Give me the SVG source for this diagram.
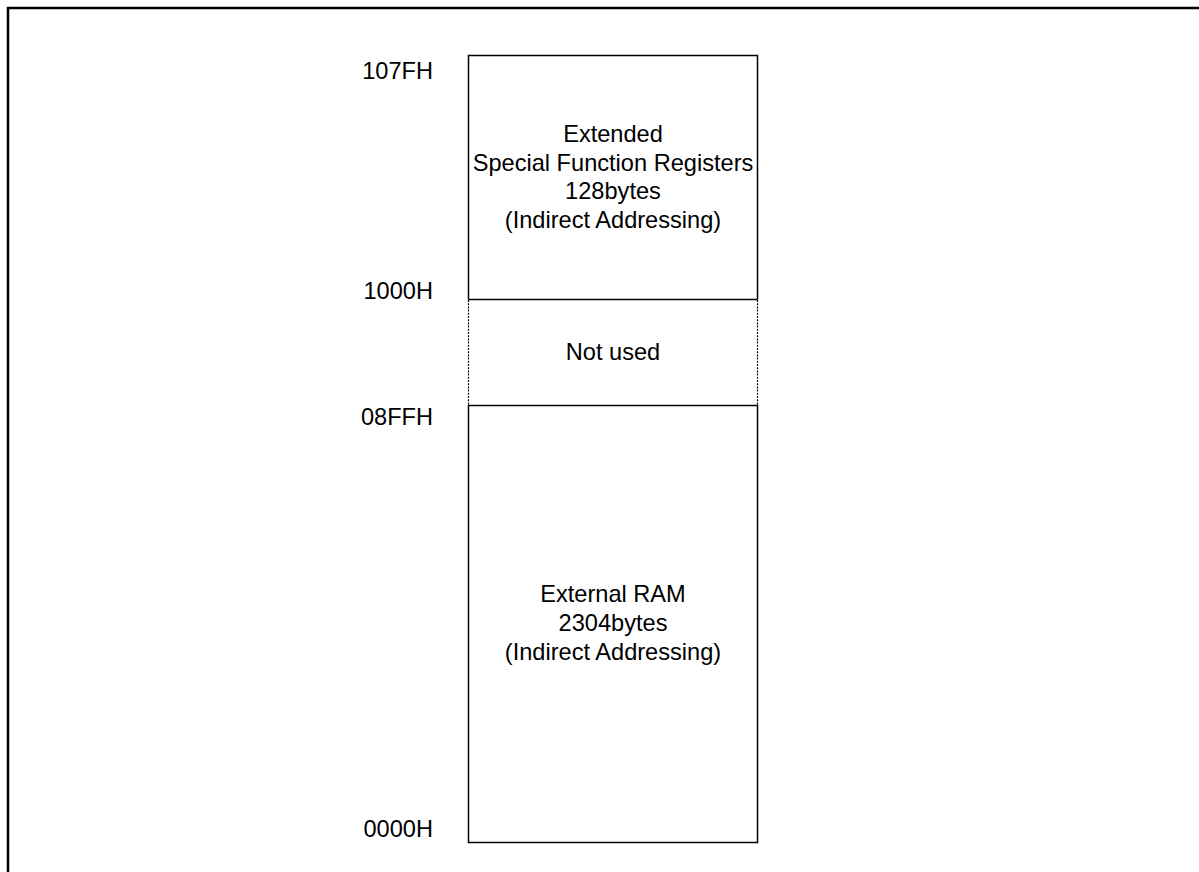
<svg xmlns="http://www.w3.org/2000/svg" width="1199" height="872" viewBox="0 0 1199 872">
<style>
text{font-family:"Liberation Sans",Arial,sans-serif;font-size:23.6px;fill:#000}
.c{text-anchor:middle}
.r{text-anchor:end}
.solid{fill:none;stroke:#000;stroke-width:1.5}
.dot{fill:none;stroke:#000;stroke-width:1.2;stroke-dasharray:2 1.2}
</style>
<rect width="1199" height="872" fill="#fff"/>
<g id="frame"><path d="M8 872V8H1199" fill="none" stroke="#000" stroke-width="2.5"/></g>
<g id="esfr">
<path class="solid" d="M468.5 299.5V55.5H757.5V299.5M468.5 299.5H757.5"/>
<text class="c" x="613" y="142">Extended</text>
<text class="c" x="613" y="170.5">Special Function Registers</text>
<text class="c" x="613" y="199">128bytes</text>
<text class="c" x="613" y="227.5">(Indirect Addressing)</text>
</g>
<g id="notused">
<path class="dot" d="M468.5 300V405M757.5 300V405"/>
<text class="c" x="613" y="360">Not used</text>
</g>
<g id="xram">
<path class="solid" d="M468.5 405.5H757.5V842.5H468.5Z"/>
<text class="c" x="613" y="602">External RAM</text>
<text class="c" x="613" y="631">2304bytes</text>
<text class="c" x="613" y="660">(Indirect Addressing)</text>
</g>
<g id="labels">
<text class="r" x="433" y="79">107FH</text>
<text class="r" x="433" y="299">1000H</text>
<text class="r" x="433" y="425">08FFH</text>
<text class="r" x="433" y="837">0000H</text>
</g>
</svg>
